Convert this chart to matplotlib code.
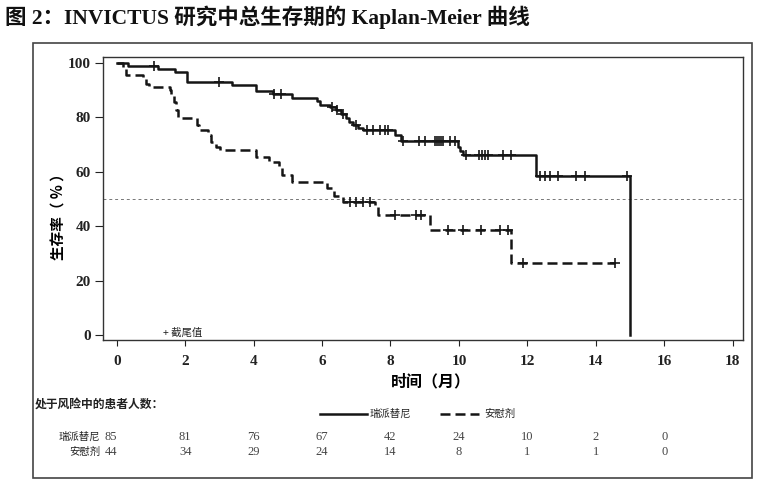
import numpy as np
import matplotlib
matplotlib.use("Agg")
import matplotlib.pyplot as plt
from matplotlib.lines import Line2D
from matplotlib.patches import Rectangle
from matplotlib.transforms import blended_transform_factory

# ---------------- data ----------------
title = "图 2：INVICTUS 研究中总生存期的 Kaplan-Meier 曲线"
arm_names = ["瑞派替尼", "安慰剂"]

rip_t = [0, 0.32, 1.2, 1.7, 2.04, 3.38, 4.06, 4.57, 5.13, 5.85, 5.93, 6.22, 6.4, 6.55,
         6.71, 6.8, 6.9, 7.05, 7.2, 8.14, 8.32, 9.97, 10.04, 10.12, 12.26, 15.0]
rip_s = [100, 98.9, 97.7, 96.6, 93.1, 91.9, 89.7, 88.5, 87.0, 86.0, 84.6, 83.8, 82.6, 81.4,
         79.8, 78.4, 77.2, 76.2, 75.4, 73.5, 71.4, 69.2, 67.8, 66.2, 58.5, 0]
rip_cens = [1.1, 3.0, 4.6, 4.8, 6.3, 6.45, 6.6, 7.0, 7.3, 7.49, 7.69, 7.83, 7.93, 8.37,
            8.83, 9.0, 9.29, 9.35, 9.41, 9.47, 9.53, 9.73, 9.88, 10.22, 10.6, 10.68,
            10.76, 10.84, 11.29, 11.53, 12.36, 12.51, 12.65, 12.9, 13.43, 13.68, 14.9]

pbo_t = [0, 0.18, 0.26, 0.77, 0.87, 0.94, 1.55, 1.6, 1.67, 1.74, 1.78, 2.35, 2.4, 2.67,
         2.75, 2.91, 3.01, 4.08, 4.45, 4.74, 4.84, 5.13, 6.15, 6.34, 6.61, 7.54, 7.64,
         9.15, 11.53, 14.55]
pbo_s = [100, 98.0, 95.6, 94.3, 92.3, 91.1, 90.1, 88.2, 85.8, 82.7, 79.7, 77.2, 75.4, 73.5,
         71.1, 69.2, 68.0, 65.6, 63.7, 61.3, 58.8, 56.1, 53.9, 51.2, 49.0, 47.2, 44.1,
         38.8, 26.6, 26.6]
pbo_cens = [6.81, 7.0, 7.2, 7.39, 8.12, 8.76, 8.88, 9.68, 10.12, 10.64, 11.19, 11.44,
            11.87, 14.55]

risk_times = [0, 2, 4, 6, 8, 10, 12, 14, 16]
rip_risk = [85, 81, 76, 67, 42, 24, 10, 2, 0]
pbo_risk = [44, 34, 29, 24, 14, 8, 1, 1, 0]

xticks = [0, 2, 4, 6, 8, 10, 12, 14, 16, 18]
yticks = [0, 20, 40, 60, 80, 100]

# ---------------- figure ----------------
W, H = 772, 495
fig = plt.figure(figsize=(W / 100, H / 100), dpi=100)
fig.patch.set_facecolor("white")

def fx(px):
    return px / W

def fy(py):
    return 1 - py / H

serif_cjk = ["Liberation Serif", "Noto Sans CJK SC"]
cjk = ["Noto Sans CJK SC", "DejaVu Sans"]

ax = fig.add_axes([fx(103), fy(340), fx(743) - fx(103), fy(57) - fy(340)])
ax.set_xlim(-0.4, 18.3)
ax.set_ylim(-1.8, 102.2)

def surv_at(ts, ss, t):
    idx = np.searchsorted(np.asarray(ts), t, side="right") - 1
    return np.asarray(ss)[idx]

ax.axhline(50, color="#777777", lw=0.7, ls=(0, (3, 3)), zorder=1)

ax.step(rip_t, rip_s, where="post", color="#151515", lw=1.8, zorder=3)
ax.step(pbo_t, pbo_s, where="post", color="#151515", lw=1.8, dashes=(4, 2), zorder=3)

ax.plot(rip_cens, [surv_at(rip_t, rip_s, t) for t in rip_cens], ls="none",
        marker="+", ms=7, mew=1.2, color="#151515", zorder=4)
ax.plot(pbo_cens, [surv_at(pbo_t, pbo_s, t) for t in pbo_cens], ls="none",
        marker="+", ms=7, mew=1.2, color="#151515", zorder=4)

ax.set_xticks(xticks)
ax.set_yticks(yticks)
ax.set_xticklabels([str(v) for v in xticks], family="Liberation Serif",
                   fontweight="bold", fontsize=11)
ax.set_yticklabels([str(v) for v in yticks], family="Liberation Serif",
                   fontweight="bold", fontsize=11)
ax.tick_params(axis="x", length=4, width=0.8, pad=7, colors="#222222")
ax.tick_params(axis="y", length=6, width=0.8, pad=3, colors="#222222")
for sp in ax.spines.values():
    sp.set_linewidth(1.0)
    sp.set_color("#333333")

ax.set_ylabel("生存率（ % ）", family=cjk, fontweight="bold", fontsize=10.5)
ax.yaxis.set_label_coords((67 - 103) / 640, (340 - 213) / 283)
ax.set_xlabel("时间（月）", family=cjk, fontweight="bold", fontsize=11.5)
ax.xaxis.set_label_coords((431 - 103) / 640, (340 - 373) / 283)

# censor legend inside axes
fig.text(fx(163), fy(333), "+ 截尾值", family=cjk, fontsize=7.5, va="center",
         ha="left", color="#222222")

# title
fig.text(fx(5), fy(17), title, family=serif_cjk, fontweight="bold", fontsize=15.5,
         va="center", ha="left", color="#111111")

# outer frame
fig.patches.append(Rectangle((fx(33), fy(478)), fx(752) - fx(33), fy(43) - fy(478),
                             transform=fig.transFigure, fill=False,
                             edgecolor="#444444", lw=1.2))

# number at risk
fig.text(fx(35), fy(404), "处于风险中的患者人数：", family=cjk, fontweight="bold",
         fontsize=8.5, va="center", ha="left", color="#222222")

fig.lines.append(Line2D([fx(320), fx(367)], [fy(414), fy(414)], transform=fig.transFigure,
                        color="#151515", lw=1.8))
fig.text(fx(370), fy(414), arm_names[0], family=cjk, fontsize=7.5, va="center",
         ha="left", color="#222222")
fig.lines.append(Line2D([fx(440), fx(479)], [fy(414), fy(414)], transform=fig.transFigure,
                        color="#151515", lw=1.8, dashes=(4, 2)))
fig.text(fx(484), fy(414), arm_names[1], family=cjk, fontsize=7.5, va="center",
         ha="left", color="#222222")

tr = blended_transform_factory(ax.transData, fig.transFigure)
for row_y, name, vals in [(437, arm_names[0], rip_risk), (452, arm_names[1], pbo_risk)]:
    fig.text(fx(100), fy(row_y), name, family=cjk, fontsize=7.5, va="center",
             ha="right", color="#222222")
    for i, (t, v) in enumerate(zip(risk_times, vals)):
        ax.annotate(str(v), xy=(t, fy(row_y)), xycoords=tr,
                    xytext=(-6 if i == 0 else 0, 0), textcoords="offset pixels",
                    ha="center", va="center", family="Liberation Serif",
                    fontsize=9, color="#444444", annotation_clip=False)

fig.savefig("out.png", dpi=100, facecolor="white")
